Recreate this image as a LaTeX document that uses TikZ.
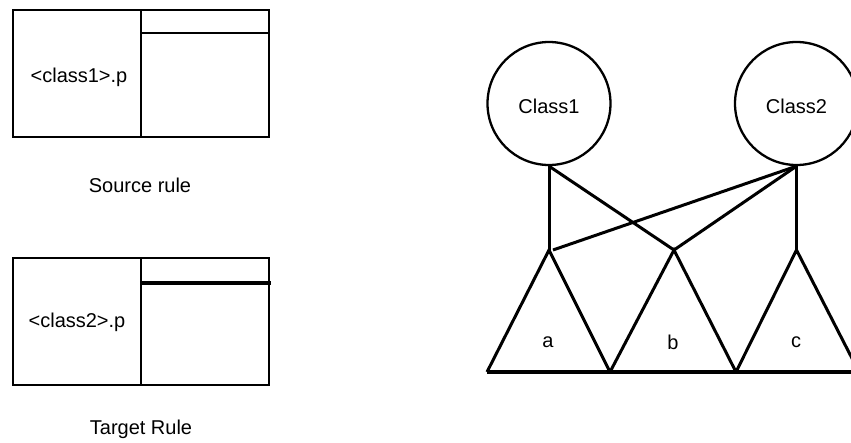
\documentclass[tikz,border=0pt]{standalone}
\usepackage{fontspec}
\setmainfont{Liberation Sans}
\begin{document}
\begin{tikzpicture}[x=1pt,y=-1pt,
  line/.style={line width=2.7pt,line join=miter},
  tline/.style={line width=3pt,line join=miter},
  thickline/.style={line width=4pt},
  lbl/.style={inner sep=0pt,font=\fontsize{20}{24}\selectfont},
  cls/.style={circle,draw,line width=2.3pt,minimum size=123pt,inner sep=0pt}]
\useasboundingbox (0,0) rectangle (851,442);
% Source rule box
\draw[line] (13,10) rectangle (269,137);
\draw[line] (141,10) -- (141,137);
\draw[line] (141,33) -- (269,33);
\node[lbl] (t1) at (79,77) {<class1>.p};
\node[lbl] (s1) at (140,185) {Source rule};
% Target rule box
\draw[line] (13,258) rectangle (269,385);
\draw[line] (141,258) -- (141,385);
\draw[thickline] (141,283) -- (271,283);
\node[lbl] (t2) at (77,322) {<class2>.p};
\node[lbl] (s2) at (141,429) {Target Rule};
% Tree diagram
\node[cls] (c1) at (549,103.5) {};
\node[cls] (c2) at (796.5,103.5) {};
\node[lbl] (n1) at (549,106.5) {Class1};
\node[lbl] (n2) at (796.5,106.5) {Class2};
\coordinate (pa) at (549,250);
\coordinate (pb) at (674,250);
\coordinate (pc) at (796.5,250);
\coordinate (b0) at (487,372);
\coordinate (b1) at (610,372);
\coordinate (b2) at (736,372);
\coordinate (b3) at (859,372);
\coordinate (pa2) at (553,250);
\draw[tline] (b0) -- (pa) -- (b1);
\draw[tline] (b1) -- (pb) -- (b2);
\draw[tline] (b2) -- (pc) -- (b3);
\draw[line width=3.3pt] (b0) -- (b3);
\draw[tline] (c1.south) -- (pa);
\draw[tline] (c1.south) -- (pb);
\draw[tline] (c2.south) -- (pb);
\draw[tline] (c2.south) -- (pa2);
\draw[tline] (c2.south) -- (pc);
\node[lbl] (la) at (548,342) {a};
\node[lbl] (lb) at (673,342) {b};
\node[lbl] (lc) at (796,342) {c};
\end{tikzpicture}
\end{document}
